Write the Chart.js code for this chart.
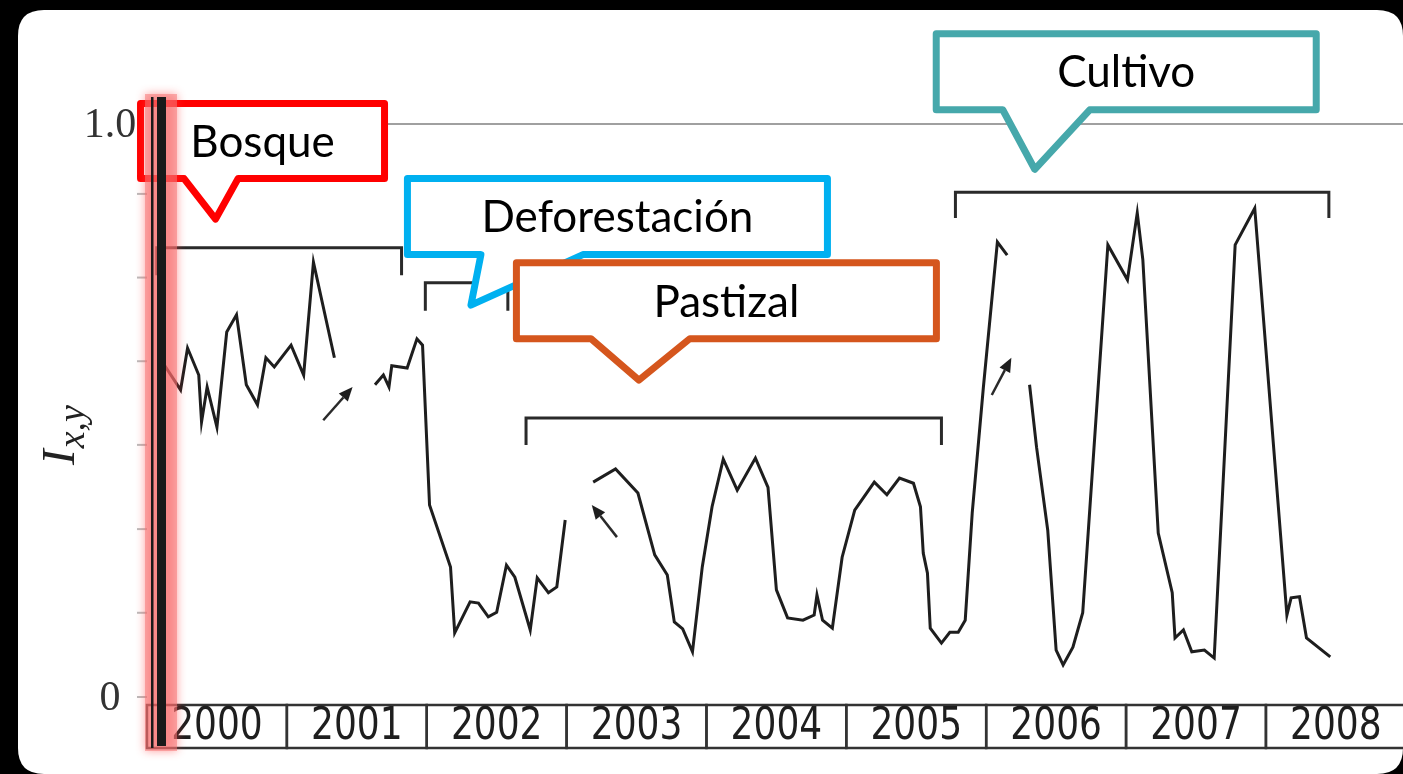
<!DOCTYPE html>
<html>
<head>
<meta charset="utf-8">
<title>Índice Ix,y 2000-2008</title>
<script src="https://cdn.jsdelivr.net/npm/chart.js@4.4.1/dist/chart.umd.min.js"></script>
<style>
  html, body { margin: 0; padding: 0; background: #000; }
  canvas { display: block; }
</style>
</head>
<body>
<canvas id="indexChart" width="1403" height="774"></canvas>
<script>
'use strict'

// tramos de la serie (año decimal, índice)
const seg1Years = [2000.09, 2000.24, 2000.29, 2000.37, 2000.39, 2000.43, 2000.50, 2000.57, 2000.64, 2000.71, 2000.79, 2000.85, 2000.91, 2001.03, 2001.12, 2001.19, 2001.34];
const seg1Index = [0.592, 0.536, 0.609, 0.562, 0.480, 0.541, 0.471, 0.637, 0.667, 0.545, 0.510, 0.592, 0.576, 0.614, 0.562, 0.759, 0.592];

const seg2Years = [2001.63, 2001.69, 2001.73, 2001.75, 2001.86, 2001.93, 2001.97, 2002.02, 2002.17, 2002.20, 2002.31, 2002.37, 2002.44, 2002.50, 2002.57, 2002.63, 2002.74, 2002.79, 2002.87, 2002.93, 2002.99];
const seg2Index = [0.545, 0.562, 0.541, 0.578, 0.574, 0.625, 0.614, 0.335, 0.227, 0.112, 0.166, 0.164, 0.140, 0.148, 0.230, 0.209, 0.117, 0.208, 0.182, 0.192, 0.309];

const seg3Years = [2003.19, 2003.35, 2003.51, 2003.63, 2003.72, 2003.77, 2003.83, 2003.90, 2003.97,
    2004.04, 2004.12, 2004.22, 2004.35, 2004.44, 2004.50, 2004.58, 2004.69, 2004.77, 2004.79, 2004.83, 2004.90, 2004.97,
    2005.06, 2005.20, 2005.29, 2005.38, 2005.48, 2005.53, 2005.55, 2005.58, 2005.60, 2005.68, 2005.74, 2005.80, 2005.85, 2005.90, 2005.98,
    2006.08, 2006.15];
const seg3Index = [0.375, 0.398, 0.356, 0.248, 0.213, 0.131, 0.119, 0.079, 0.227,
    0.332, 0.415, 0.361, 0.417, 0.366, 0.187, 0.138, 0.134, 0.143, 0.178, 0.134, 0.120, 0.244,
    0.326, 0.375, 0.353, 0.382, 0.373, 0.332, 0.251, 0.216, 0.120, 0.094, 0.113, 0.113, 0.134, 0.321, 0.541,
    0.794, 0.771];

const seg4Years = [2006.31, 2006.36, 2006.44, 2006.50, 2006.55, 2006.62, 2006.69, 2006.87, 2007.01, 2007.08, 2007.12, 2007.23, 2007.33, 2007.35, 2007.41, 2007.47, 2007.56, 2007.63, 2007.78, 2007.92, 2008.15, 2008.18, 2008.24, 2008.29, 2008.46];
const seg4Index = [0.545, 0.436, 0.291, 0.082, 0.056, 0.087, 0.147, 0.789, 0.728, 0.845, 0.763, 0.286, 0.182, 0.103, 0.117, 0.079, 0.082, 0.068, 0.789, 0.853, 0.143, 0.173, 0.175, 0.103, 0.070];

const yearLabels = ['2000', '2001', '2002', '2003', '2004', '2005', '2006', '2007', '2008'];
const yTickValues = [0, 0.147, 0.293, 0.44, 0.586, 0.732, 0.878, 1.0];
const yTickLabels = ['0', '', '', '', '', '', '', '1.0'];

// corchetes: desde, hasta, nivel, extremo
const bracketFrom = [2000.07, 2001.99, 2002.71, 2005.78];
const bracketTo = [2001.82, 2002.58, 2005.68, 2008.45];
const bracketLevel = [0.784, 0.723, 0.487, 0.881];
const bracketEnd = [0.736, 0.674, 0.440, 0.836];

// flechas
const arrowFrom = [[2001.26, 0.483], [2003.36, 0.279], [2006.04, 0.527]];
const arrowTo = [[2001.47, 0.541], [2003.18, 0.335], [2006.18, 0.592]];

// globos de texto (punta en coordenadas del gráfico)
const calloutLabels = ['Bosque', 'Deforestación', 'Pastizal', 'Cultivo'];
const calloutTips = [[2000.49, 0.834], [2002.316, 0.684], [2003.517, 0.553], [2006.347, 0.921]];

// estilos de los globos: caja [izq, arriba, der, abajo] y base de la punta, en px respecto a la punta
const calloutColors = ['#ff0000', '#00b0f0', '#d5561d', '#46a8ab'];
const calloutBoxes = [
    { box: [-75, -115.5, 169, -40.5], base: [-31.5, 22.5], text: [47, -62] },
    { box: [-63.5, -126.5, 356.5, -50.5], base: [10, 112], text: [146.5, -73] },
    { box: [-122.5, -117.5, 297.5, -41.5], base: [-48, 51], text: [87.5, -63] },
    { box: [-98.5, -135.5, 281.5, -59.5], base: [-32, 55], text: [91.5, -82] }
];

const xStart = 2000;
const xEnd = 2008.98;

function toPoints(xs, ys) {
    return xs.map((x, i) => ({ x: x, y: ys[i] }));
}

function segment(xs, ys) {
    return {
        data: toPoints(xs, ys),
        borderColor: '#1e1e1e',
        borderWidth: 3,
        pointRadius: 0,
        tension: 0,
        fill: false
    };
}

function roundRect(ctx, x, y, w, h, r) {
    ctx.beginPath();
    ctx.moveTo(x + r, y);
    ctx.lineTo(x + w - r, y);
    ctx.quadraticCurveTo(x + w, y, x + w, y + r);
    ctx.lineTo(x + w, y + h - r);
    ctx.quadraticCurveTo(x + w, y + h, x + w - r, y + h);
    ctx.lineTo(x + r, y + h);
    ctx.quadraticCurveTo(x, y + h, x, y + h - r);
    ctx.lineTo(x, y + r);
    ctx.quadraticCurveTo(x, y, x + r, y);
    ctx.closePath();
}

const overlay = {
    id: 'overlay',
    beforeDraw(chart) {
        const ctx = chart.ctx;
        ctx.save();
        ctx.fillStyle = '#000';
        ctx.fillRect(0, 0, chart.width, chart.height);
        ctx.fillStyle = '#fff';
        roundRect(ctx, 18, 10, 1385, 764, 26);
        ctx.fill();
        ctx.restore();
    },
    afterDatasetsDraw(chart) {
        const ctx = chart.ctx;
        const xs = chart.scales.x;
        const ys = chart.scales.y;
        const area = chart.chartArea;
        ctx.save();

        // linea superior (1.0)
        ctx.strokeStyle = '#a0a0a0';
        ctx.lineWidth = 2;
        ctx.beginPath();
        ctx.moveTo(area.left, ys.getPixelForValue(1.0));
        ctx.lineTo(area.right, ys.getPixelForValue(1.0));
        ctx.stroke();

        // marcas y etiquetas del eje y
        ctx.strokeStyle = '#bbbbbb';
        ctx.fillStyle = '#333';
        ctx.font = '42px "Liberation Serif", "DejaVu Serif", serif';
        ctx.textAlign = 'center';
        ctx.textBaseline = 'middle';
        yTickValues.forEach((v, i) => {
            const py = ys.getPixelForValue(v);
            ctx.beginPath();
            ctx.moveTo(area.left - 10, py);
            ctx.lineTo(area.left, py);
            ctx.stroke();
            if (yTickLabels[i]) {
                ctx.fillText(yTickLabels[i], area.left - 37, py + 2);
            }
        });

        // titulo del eje y: I con subindice x,y
        ctx.save();
        ctx.translate(74, 465);
        ctx.rotate(-Math.PI / 2);
        ctx.textAlign = 'left';
        ctx.textBaseline = 'alphabetic';
        ctx.fillStyle = '#222';
        ctx.font = 'italic 47px "Liberation Serif", serif';
        ctx.fillText('I', 0, 0);
        const wI = ctx.measureText('I').width;
        ctx.font = 'italic 38px "Liberation Serif", serif';
        ctx.fillText('x,y', wI + 1, 10);
        ctx.restore();

        // cajas de los años
        const boxTop = area.bottom + 8;
        const boxH = 43;
        ctx.strokeStyle = '#333';
        ctx.lineWidth = 2.5;
        ctx.fillStyle = '#1e1e1e';
        ctx.font = '40px "DejaVu Sans Condensed", "DejaVu Sans", sans-serif';
        ctx.textAlign = 'center';
        ctx.textBaseline = 'middle';
        yearLabels.forEach((label, i) => {
            const x0 = xs.getPixelForValue(xStart + i);
            const x1 = xs.getPixelForValue(xStart + i + 1);
            ctx.strokeRect(x0, boxTop, x1 - x0, boxH);
            ctx.save();
            ctx.translate((x0 + x1) / 2, boxTop + boxH / 2 + 1);
            ctx.scale(1, 1.12);
            ctx.fillText(label, 0, 0);
            ctx.restore();
        });

        // corchetes
        ctx.strokeStyle = '#2a2a2a';
        ctx.lineWidth = 3;
        ctx.lineJoin = 'miter';
        bracketFrom.forEach((x0, i) => {
            const a = xs.getPixelForValue(x0);
            const b = xs.getPixelForValue(bracketTo[i]);
            const top = ys.getPixelForValue(bracketLevel[i]);
            const end = ys.getPixelForValue(bracketEnd[i]);
            ctx.beginPath();
            ctx.moveTo(a, end);
            ctx.lineTo(a, top);
            ctx.lineTo(b, top);
            ctx.lineTo(b, end);
            ctx.stroke();
        });

        // flechas
        ctx.lineWidth = 2.5;
        ctx.fillStyle = '#1e1e1e';
        arrowFrom.forEach((p, i) => {
            const x0 = xs.getPixelForValue(p[0]);
            const y0 = ys.getPixelForValue(p[1]);
            const x1 = xs.getPixelForValue(arrowTo[i][0]);
            const y1 = ys.getPixelForValue(arrowTo[i][1]);
            const ang = Math.atan2(y1 - y0, x1 - x0);
            const len = 14;
            const hw = 6;
            const bx = x1 - len * Math.cos(ang);
            const by = y1 - len * Math.sin(ang);
            ctx.beginPath();
            ctx.moveTo(x0, y0);
            ctx.lineTo(bx, by);
            ctx.stroke();
            ctx.beginPath();
            ctx.moveTo(x1, y1);
            ctx.lineTo(bx + hw * Math.sin(ang), by - hw * Math.cos(ang));
            ctx.lineTo(bx - hw * Math.sin(ang), by + hw * Math.cos(ang));
            ctx.closePath();
            ctx.fill();
        });

        // globos
        ctx.lineWidth = 7;
        ctx.lineJoin = 'round';
        calloutLabels.forEach((label, i) => {
            const tx = xs.getPixelForValue(calloutTips[i][0]);
            const ty = ys.getPixelForValue(calloutTips[i][1]);
            const c = calloutBoxes[i];
            const L = tx + c.box[0], T = ty + c.box[1], R = tx + c.box[2], B = ty + c.box[3];
            ctx.beginPath();
            ctx.moveTo(L, T);
            ctx.lineTo(R, T);
            ctx.lineTo(R, B);
            ctx.lineTo(tx + c.base[1], B);
            ctx.lineTo(tx, ty);
            ctx.lineTo(tx + c.base[0], B);
            ctx.lineTo(L, B);
            ctx.closePath();
            ctx.fillStyle = '#fff';
            ctx.fill();
            ctx.strokeStyle = calloutColors[i];
            ctx.stroke();
            ctx.fillStyle = '#000';
            ctx.font = '44px Lato, "Open Sans", sans-serif';
            ctx.textAlign = 'center';
            ctx.textBaseline = 'alphabetic';
            ctx.fillText(label, tx + c.text[0], ty + c.text[1]);
        });

        // barra vertical resaltada
        const barTop = 97;
        const barBottom = boxTop + boxH - 2;
        ctx.save();
        ctx.shadowColor = 'rgba(255, 60, 60, 0.9)';
        ctx.shadowBlur = 10;
        ctx.fillStyle = 'rgba(245, 120, 120, 0.55)';
        ctx.fillRect(area.left - 2, barTop - 3, 32, barBottom - barTop + 8);
        ctx.restore();
        ctx.fillStyle = '#1a1a1a';
        ctx.fillRect(area.left + 4, barTop, 2.5, barBottom - barTop + 2);
        ctx.fillRect(area.left + 10, barTop, 9, barBottom - barTop);

        ctx.restore();
    }
};

const ctx = document.getElementById('indexChart').getContext('2d');

new Chart(ctx, {
    type: 'line',
    data: {
        datasets: [
            segment(seg1Years, seg1Index),
            segment(seg2Years, seg2Index),
            segment(seg3Years, seg3Index),
            segment(seg4Years, seg4Index)
        ]
    },
    options: {
        responsive: false,
        animation: false,
        layout: {
            padding: { left: 147, right: 0, top: 124, bottom: 77 }
        },
        plugins: {
            legend: { display: false },
            tooltip: { enabled: false }
        },
        scales: {
            x: { type: 'linear', min: xStart, max: xEnd, display: false },
            y: { min: 0, max: 1, display: false }
        }
    },
    plugins: [overlay]
});
</script>
</body>
</html>
